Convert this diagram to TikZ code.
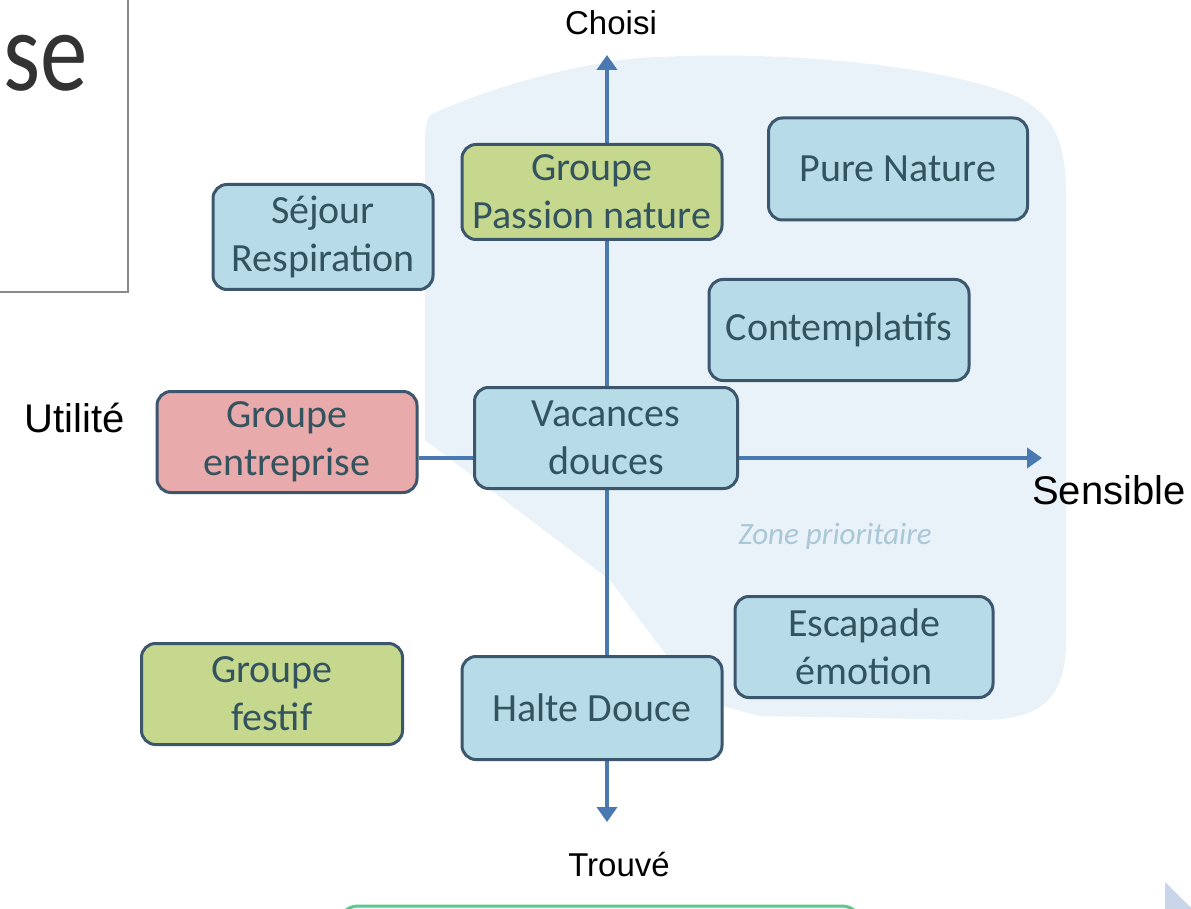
\documentclass[tikz,border=0pt]{standalone}
\usepackage{fontspec}
\setmainfont{Carlito}
\newfontfamily\arialf{Liberation Sans}
\usetikzlibrary{arrows.meta}
\definecolor{boxblue}{HTML}{B8DCE7}
\definecolor{boxgreen}{HTML}{C6D88E}
\definecolor{boxpink}{HTML}{E8AAAA}
\definecolor{boxline}{HTML}{3B566D}
\definecolor{boxtext}{HTML}{33545F}
\definecolor{zonefill}{HTML}{E8F2F8}
\definecolor{axisblue}{HTML}{4A78B0}
\definecolor{zonetext}{HTML}{A9C7D6}
\definecolor{framegray}{HTML}{8A8A8A}
\definecolor{bottomgreen}{HTML}{5CC98C}
\definecolor{tri}{HTML}{C9D6EA}
\definecolor{sedark}{HTML}{333333}
\begin{document}
\begin{tikzpicture}[x=1pt,y=-1pt,
  card/.style={draw=boxline, line width=3pt, rounded corners=14pt,
    minimum width=260pt, minimum height=101pt, text=boxtext, align=center,
    font=\fontsize{40}{48}\selectfont, inner sep=0pt},
  blue card/.style={card, fill=boxblue},
  green card/.style={card, fill=boxgreen},
  pink card/.style={card, fill=boxpink},
  axis/.style={draw=axisblue, line width=4.5pt,
    arrows={Triangle[width=20pt,length=15pt]-Triangle[width=20pt,length=15pt]}},
  axis one/.style={draw=axisblue, line width=4.5pt,
    arrows={-Triangle[width=20pt,length=15pt]}},
  axislabel/.style={font=\arialf\fontsize{36}{40}\selectfont, text=black, inner sep=0pt},
  frameline/.style={draw=framegray, line width=1.5pt}
]
\useasboundingbox (0,0) rectangle (1191,909);
\clip (0,0) rectangle (1191,909);
\fill[white] (0,0) rectangle (1191,909);

% zone prioritaire background
\fill[zonefill] (430,115) .. controls (480,92) and (560,66) .. (640,58)
  .. controls (800,48) and (960,70) .. (1020,98)
  .. controls (1060,120) and (1066,150) .. (1066,200)
  -- (1066,640) .. controls (1066,700) and (1040,720) .. (980,720)
  -- (760,716) -- (700,700) -- (610,580) -- (425,440) -- (425,140)
  .. controls (425,128) and (427,120) .. (430,115) -- cycle;

% top-left frame and text
\draw[frameline] (128,0) -- (128,292) -- (0,292);
\node[anchor=base west, inner sep=0pt, text=sedark] (se) at (3,91)
  {\scalebox{1}[1.2]{\fontsize{95}{95}\selectfont\rmfamily se}};

% axis end points
\coordinate (top) at (607,55);
\coordinate (bot) at (607,822);
\coordinate (right) at (1042,458);

\draw[axis] (bot) -- (top);

% cards
\node[blue card, minimum width=220pt, minimum height=105pt] (sejour) at (323,237) {Séjour\\Respiration};
\node[green card, minimum height=95pt] (passion) at (592,192) {Groupe\\Passion nature};
\node[blue card, minimum width=259pt, minimum height=102pt] (pure) at (898,169) {Pure Nature};
\node[blue card] (contemp) at (839,330) {Contemplatifs};
\node[pink card] (entreprise) at (287,442) {Groupe\\entreprise};

\draw[axis one] (entreprise.east |- right) -- (right);

\node[blue card, minimum width=263pt] (vacances) at (606,438) {Vacances\\douces};
\node[blue card, minimum width=258pt] (escapade) at (864,647) {Escapade\\émotion};
\node[green card, minimum width=261pt] (festif) at (272,694) {Groupe\\festif};
\node[blue card, minimum height=103pt] (halte) at (592,708) {Halte Douce};

\node[font=\itshape\fontsize{31}{34}\selectfont, text=zonetext] (zone) at (835,536) {Zone prioritaire};

% axis labels
\node[axislabel, font=\arialf\fontsize{33}{36}\selectfont] (choisi) at (611,23) {Choisi};
\node[axislabel, font=\arialf\fontsize{33}{36}\selectfont] (trouve) at (619,865) {Trouvé};
\node[axislabel, font=\arialf\fontsize{40}{44}\selectfont] (utilite) at (75,418) {Utilité};
\node[axislabel, font=\arialf\fontsize{40}{44}\selectfont] (sensible) at (1109,490) {Sensible};

% bottom green box (cut off)
\draw[draw=bottomgreen, line width=3pt, fill=white, rounded corners=20pt] (338,906) rectangle (862,990);

% bottom right triangle
\fill[tri] (1165,882) -- (1193,910) -- (1165,938) -- cycle;
\end{tikzpicture}
\end{document}
